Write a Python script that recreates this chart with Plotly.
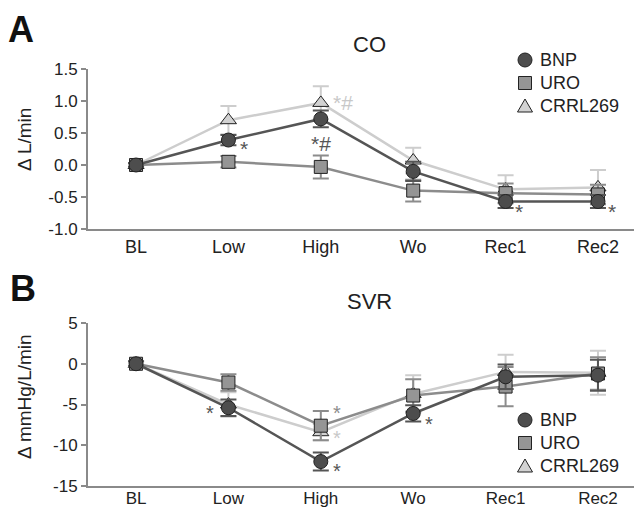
import plotly.graph_objects as go

categories = ["BL", "Low", "High", "Wo", "Rec1", "Rec2"]
series_names = ["BNP", "URO", "CRRL269"]

# y-axis ticks
co_ticks = [-1.0, -0.5, 0.0, 0.5, 1.0, 1.5]
co_ticklabels = ["-1.0", "-0.5", "0.0", "0.5", "1.0", "1.5"]
svr_ticks = [-15, -10, -5, 0, 5]
svr_ticklabels = ["-15", "-10", "-5", "0", "5"]

# Panel A: CO (delta L/min)
co_bnp = [0.0, 0.39, 0.72, -0.10, -0.57, -0.57]
co_bnp_err = [0.03, 0.08, 0.13, 0.15, 0.10, 0.10]
co_uro = [0.0, 0.05, -0.03, -0.40, -0.44, -0.46]
co_uro_err = [0.03, 0.09, 0.18, 0.17, 0.15, 0.15]
co_crrl = [0.0, 0.70, 0.97, 0.07, -0.38, -0.35]
co_crrl_err = [0.03, 0.22, 0.26, 0.20, 0.22, 0.27]

# Panel B: SVR (delta mmHg/L/min)
svr_bnp = [0.0, -5.4, -12.0, -6.1, -1.6, -1.4]
svr_bnp_err = [0.3, 1.0, 1.1, 1.0, 1.5, 1.9]
svr_uro = [0.0, -2.3, -7.6, -3.9, -2.8, -1.2]
svr_uro_err = [0.3, 1.0, 1.8, 2.0, 2.4, 2.0]
svr_crrl = [0.0, -5.0, -8.4, -3.7, -1.0, -1.1]
svr_crrl_err = [0.3, 1.5, 1.0, 2.3, 2.1, 2.7]

# significance markers: (category, y, text, series index, x offset)
co_sig = [("Low", 0.26, "*", 0, 0.17), ("High", 0.33, "*#", 0, 0.0), ("High", 0.97, "*#", 2, 0.24),
          ("Rec1", -0.73, "*", 0, 0.15), ("Rec2", -0.73, "*", 0, 0.15)]
svr_sig = [("Low", -6.0, "*", 0, -0.2), ("High", -6.0, "*", 1, 0.17), ("High", -9.1, "*", 2, 0.17),
           ("High", -13.2, "*", 0, 0.17), ("Wo", -7.4, "*", 0, 0.17)]

fills = ["#4d4d4d", "#959595", "#d2d2d2"]
lines = ["#555555", "#8c8c8c", "#cdcdcd"]
sig_colors = ["#555555", "#8c8c8c", "#c8c8c8"]
symbols = ["circle", "square", "triangle-up"]
sizes = [14, 13, 14]

FONT = "Liberation Sans, Arial, sans-serif"
W, H, L = 634, 510, 88
PW = W - L

def px2x(p):
    return (p - L) / PW

def py2y(p):
    return (H - p) / H

fig = go.Figure()

panels = [
    ("x", "y", [co_bnp, co_uro, co_crrl], [co_bnp_err, co_uro_err, co_crrl_err]),
    ("x2", "y2", [svr_bnp, svr_uro, svr_crrl], [svr_bnp_err, svr_uro_err, svr_crrl_err]),
]

for xa, ya, vals, errs in panels:
    for i in [2, 1, 0]:
        fig.add_trace(go.Scatter(
            x=categories, y=vals[i], xaxis=xa, yaxis=ya, mode="lines+markers",
            line=dict(color=lines[i], width=2.5),
            marker=dict(symbol=symbols[i], size=sizes[i], color=fills[i],
                        line=dict(color="#222222", width=1)),
            error_y=dict(type="data", array=errs[i], color=lines[i], thickness=2, width=8),
            showlegend=False, hoverinfo="skip"))

annotations = []
for cat, yv, txt, si, dx in co_sig:
    annotations.append(dict(x=categories.index(cat) + dx, y=yv, xref="x", yref="y", text=txt,
                            showarrow=False, font=dict(family=FONT, size=21, color=sig_colors[si])))
for cat, yv, txt, si, dx in svr_sig:
    annotations.append(dict(x=categories.index(cat) + dx, y=yv, xref="x2", yref="y2", text=txt,
                            showarrow=False, font=dict(family=FONT, size=20, color=sig_colors[si])))

annotations += [
    dict(x=px2x(6), y=py2y(7), xref="paper", yref="paper", xanchor="left", yanchor="top", text="<b>A</b>",
         showarrow=False, font=dict(family=FONT, size=36, color="#111111")),
    dict(x=px2x(8), y=py2y(266), xref="paper", yref="paper", xanchor="left", yanchor="top", text="<b>B</b>",
         showarrow=False, font=dict(family=FONT, size=36, color="#111111")),
    dict(x=px2x(369), y=py2y(44), xref="paper", yref="paper", text="CO", showarrow=False,
         yanchor="middle", font=dict(family=FONT, size=22, color="#222222")),
    dict(x=px2x(369), y=py2y(301), xref="paper", yref="paper", text="SVR", showarrow=False,
         yanchor="middle", font=dict(family=FONT, size=22, color="#222222")),
    dict(x=px2x(24), y=py2y(140), xref="paper", yref="paper", text="Δ L/min", showarrow=False,
         textangle=-90, xanchor="center", yanchor="middle", font=dict(family=FONT, size=19, color="#222222")),
    dict(x=px2x(24), y=py2y(397), xref="paper", yref="paper", text="Δ mmHg/L/min", showarrow=False,
         textangle=-90, xanchor="center", yanchor="middle", font=dict(family=FONT, size=19, color="#222222")),
]

# legends (drawn as shapes + text in paper space)
shapes = []
for ys in ([60, 83, 106], [420, 443, 466]):
    for i in range(3):
        cx, cy = px2x(525), py2y(ys[i])
        style = dict(fillcolor=fills[i], line=dict(color="#222222", width=1), layer="above")
        if symbols[i] == "circle":
            shapes.append(dict(type="circle", xref="paper", yref="paper", xsizemode="pixel",
                               ysizemode="pixel", xanchor=cx, yanchor=cy, x0=-7, x1=7, y0=-7, y1=7, **style))
        elif symbols[i] == "square":
            shapes.append(dict(type="rect", xref="paper", yref="paper", xsizemode="pixel",
                               ysizemode="pixel", xanchor=cx, yanchor=cy, x0=-6.5, x1=6.5, y0=-6.5, y1=6.5, **style))
        else:
            shapes.append(dict(type="path", xref="paper", yref="paper", xsizemode="pixel",
                               ysizemode="pixel", xanchor=cx, yanchor=cy,
                               path="M -7.5 -6 L 7.5 -6 L 0 7 Z", **style))
        annotations.append(dict(x=px2x(538), y=cy, xref="paper", yref="paper", xanchor="left",
                                yanchor="middle", text=series_names[i], showarrow=False,
                                font=dict(family=FONT, size=18, color="#222222")))

axis_common = dict(showgrid=False, zeroline=False, showline=True, linecolor="#8a8a8a", linewidth=2,
                   automargin=False)
xtick_font = dict(family=FONT, size=18, color="#222222")
xtick_font2 = dict(family=FONT, size=17, color="#222222")
ytick_font = dict(family=FONT, size=17, color="#222222")

xrange = [-0.52, 5.39]
fig.update_layout(
    width=W, height=H, margin=dict(l=L, r=0, t=0, b=0, pad=0, autoexpand=False),
    plot_bgcolor="white", paper_bgcolor="white",
    font=dict(family=FONT, color="#222222"),
    showlegend=False,
    xaxis=dict(**axis_common, domain=[0, 1], range=xrange, anchor="y", ticks="", tickfont=xtick_font,
               tickmode="array", tickvals=list(range(6)), ticktext=categories),
    xaxis2=dict(**axis_common, domain=[0, 1], range=xrange, anchor="y2", ticks="", tickfont=xtick_font2,
                tickmode="array", tickvals=list(range(6)), ticktext=categories, ticklabelstandoff=-4),
    yaxis=dict(**axis_common, domain=[py2y(229), py2y(69)], range=[-1.0, 1.5], anchor="x",
               ticks="outside", ticklen=5, tickcolor="#8a8a8a", tickwidth=2, tickfont=ytick_font,
               tickmode="array", tickvals=co_ticks, ticktext=co_ticklabels),
    yaxis2=dict(**axis_common, domain=[py2y(486), py2y(323)], range=[-15, 5], anchor="x2",
                ticks="outside", ticklen=5, tickcolor="#8a8a8a", tickwidth=2, tickfont=ytick_font,
                tickmode="array", tickvals=svr_ticks, ticktext=svr_ticklabels),
    annotations=annotations,
    shapes=shapes,
)

fig.write_html("out.html")
